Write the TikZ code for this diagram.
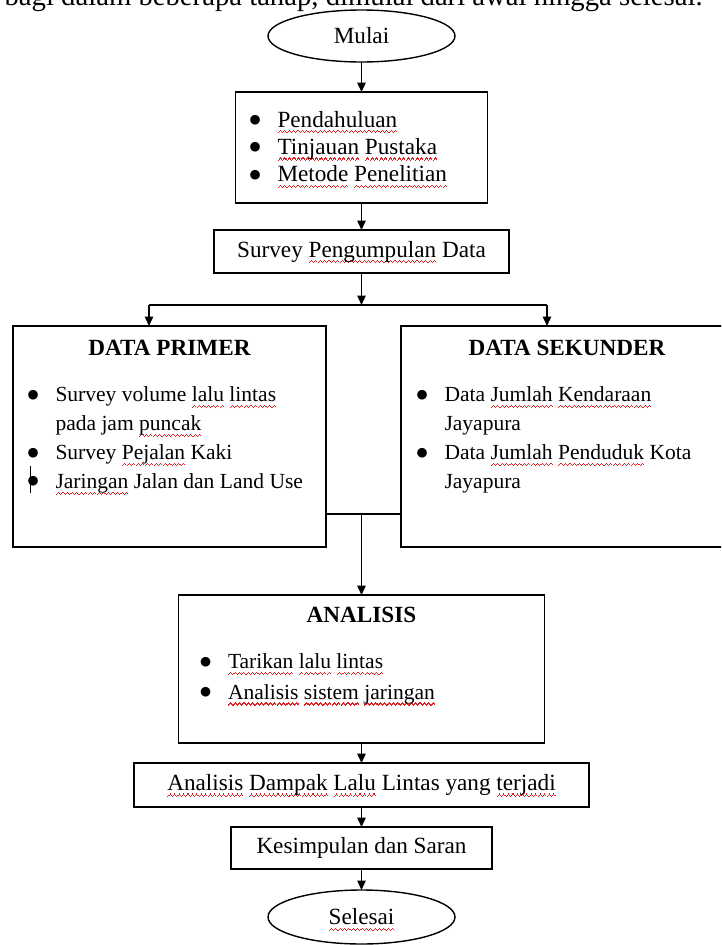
\documentclass[tikz,border=0pt]{standalone}
\usepackage{fontspec}
\setmainfont{Liberation Serif}
\newfontfamily\symfont{DejaVu Sans}
\usepackage{graphicx}
\usepackage{xcolor}
\definecolor{spellred}{RGB}{226, 32, 32}
\usetikzlibrary{
    shapes.geometric,
    arrows.meta,
    positioning,
    calc
}

% wavy red spell-check mark under a word (built from tiny rules)
\newsavebox{\spellbox}
\newcommand{\squigunit}{\hbox{\rule[0pt]{0.62pt}{0.75pt}\rule[0.6pt]{0.62pt}{0.75pt}\rule[1.2pt]{0.62pt}{0.75pt}\rule[0.6pt]{0.62pt}{0.75pt}}}
\newcommand{\spell}[1]{\sbox{\spellbox}{#1}%
    \rlap{\raisebox{-3.6pt}[0pt][0pt]{\textcolor{spellred}{\hbox to \wd\spellbox{\xleaders\squigunit\hfill}}}}%
    \usebox{\spellbox}}
% bullet with hanging indent
\newcommand{\bigdot}{\raisebox{2.1pt}{\symfont\fontsize{7.2}{7.2}\selectfont ●}}
\newcommand{\bul}{\makebox[0.56cm][l]{\bigdot}}
\newcommand{\cont}{\hspace*{0.56cm}}
\newcommand{\cursorbul}{\makebox[0.56cm][l]{\rlap{\hspace{0.05cm}\rule[-0.08cm]{0.45pt}{0.54cm}}\bigdot}}

\begin{document}
\begin{tikzpicture}[
    >={Triangle[length=0.19cm, width=0.17cm]},
    font=\fontsize{13.2}{15.6}\selectfont,
    box/.style={draw=black, line width=0.8pt, inner sep=0pt, outer sep=0pt},
    terminal/.style={box, ellipse, minimum width=3.74cm, minimum height=1.04cm},
    heading/.style={inner sep=0pt, outer sep=0pt, font=\fontsize{13.2}{15.6}\selectfont\bfseries},
    itemlist/.style={inner sep=0pt, outer sep=0pt, align=left},
    datalist/.style={itemlist, font=\fontsize{12.25}{16.44}\selectfont},
    arr/.style={draw=black, line width=0.8pt, ->},
    link/.style={draw=black, line width=0.8pt}
]
\useasboundingbox (0,0) rectangle (14.42,-18.90);
\clip (0,0) rectangle (14.42,-18.90);

% ==================== TEXT ABOVE (CUT OFF) ====================
\node[anchor=base east, inner sep=0pt, font=\fontsize{16.33}{18}\selectfont] (intro) at (14.06,-0.10)
    {bagi dalam beberapa tahap, dimulai dari awal hingga selesai.};

% ==================== MULAI ====================
\node[terminal] (mulai) at (7.23,-0.72) {Mulai};

% ==================== BAB AWAL ====================
\node[box, below=0.60cm of mulai, minimum width=5.04cm, minimum height=2.22cm] (bab_awal) {};
\node[itemlist, below right=0.38cm and 0.28cm of bab_awal.north west] (bab_list) {
    \bul\spell{Pendahuluan}\\
    \bul\spell{Tinjauan} \spell{Pustaka}\\
    \bul\spell{Metode} \spell{Penelitian}
};
\draw[arr] (mulai) -- (bab_awal);

% ==================== SURVEY ====================
\node[box, below=0.54cm of bab_awal, minimum width=5.90cm, minimum height=0.86cm] (survey) {Survey \spell{Pengumpulan} Data};
\draw[arr] (bab_awal) -- (survey);

% ==================== DATA PRIMER ====================
\node[box, below=1.06cm of survey, xshift=-3.84cm, minimum width=6.26cm, minimum height=4.42cm] (data_primer) {};
\node[heading, below=0.29cm of data_primer.north] (primer_title) {DATA PRIMER};
\node[datalist, below right=1.22cm and 0.29cm of data_primer.north west] (primer_list) {
    \bul Survey volume \spell{lalu} \spell{lintas}\\
    \cont pada jam \spell{puncak}\\
    \bul Survey \spell{Pejalan} Kaki\\
    \cursorbul\spell{Jaringan} Jalan dan Land Use
};

% ==================== DATA SEKUNDER ====================
\node[box, right=1.50cm of data_primer, minimum width=6.64cm, minimum height=4.42cm] (data_sekunder) {};
\node[heading, below=0.29cm of data_sekunder.north] (sekunder_title) {DATA SEKUNDER};
\node[datalist, below right=1.22cm and 0.31cm of data_sekunder.north west] (sekunder_list) {
    \bul Data \spell{Jumlah} \spell{Kendaraan}\\
    \cont Jayapura\\
    \bul Data \spell{Jumlah} \spell{Penduduk} Kota\\
    \cont Jayapura
};

% split from survey to both data boxes
\coordinate (split) at ($(survey.south)+(0,-0.64)$);
\coordinate (in_primer) at ([xshift=-0.41cm]data_primer.north);
\coordinate (in_sekunder) at ([xshift=-0.40cm]data_sekunder.north);
\draw[arr] (survey.south) -- (split);
\draw[link] (in_primer |- split) -- (in_sekunder |- split);
\draw[arr] (in_primer |- split) -- (in_primer);
\draw[arr] (in_sekunder |- split) -- (in_sekunder);

% ==================== ANALISIS ====================
\node[box, below=0.96cm of data_primer, xshift=3.84cm, minimum width=7.32cm, minimum height=2.96cm] (analisis) {};
\node[heading, below=0.25cm of analisis.north] (analisis_title) {ANALISIS};
\node[datalist, font=\fontsize{12.25}{17.3}\selectfont, below right=1.18cm and 0.43cm of analisis.north west] (analisis_list) {
    \bul\spell{Tarikan} \spell{lalu} \spell{lintas}\\
    \bul\spell{Analisis} \spell{sistem} \spell{jaringan}
};

% join of both data boxes
\coordinate (join) at ([yshift=0.66cm]data_primer.south east);
\draw[link] (join) -- (join -| data_sekunder.west);
\draw[arr] (join -| analisis.north) -- (analisis.north);

% ==================== DAMPAK ====================
\node[box, below=0.40cm of analisis, minimum width=9.10cm, minimum height=0.88cm] (dampak) {\spell{Analisis} \spell{Dampak} \spell{Lalu} Lintas yang \spell{terjadi}};
\draw[arr] (analisis) -- (dampak);

% ==================== KESIMPULAN ====================
\node[box, below=0.40cm of dampak, minimum width=5.22cm, minimum height=0.84cm] (kesimpulan) {Kesimpulan dan Saran};
\draw[arr] (dampak) -- (kesimpulan);

% ==================== SELESAI ====================
\node[terminal, below=0.42cm of kesimpulan, minimum height=1.08cm] (selesai) {\spell{Selesai}};
\draw[arr] (kesimpulan) -- (selesai);

\end{tikzpicture}
\end{document}
